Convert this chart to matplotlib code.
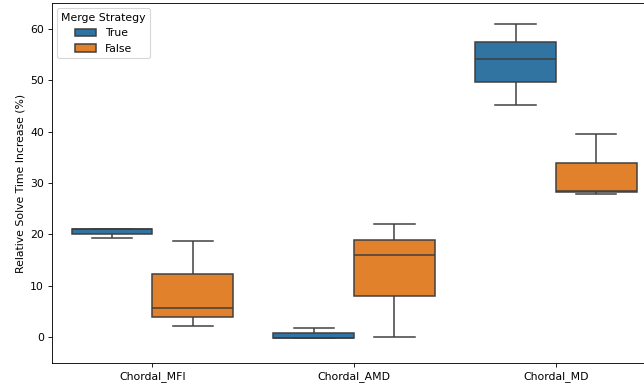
import matplotlib
matplotlib.use('Agg')
import matplotlib.pyplot as plt
import pandas as pd
import seaborn as sns

# five-number summaries: min, q1, median, q3, max
methods = ['Chordal_MFI', 'Chordal_AMD', 'Chordal_MD']
merge = ['True', 'False']

mfi_true = [19.35, 20.07, 21.05, 21.1, 21.1]
mfi_false = [2.2, 3.96, 5.6, 12.2, 18.77]
amd_true = [-0.13, -0.13, -0.1, 0.78, 1.69]
amd_false = [0.0, 7.99, 16.03, 18.96, 21.95]
md_true = [45.26, 49.68, 54.1, 57.47, 60.9]
md_false = [27.8, 28.25, 28.5, 33.96, 39.55]

groups = {
    ('Chordal_MFI', 'True'): mfi_true,
    ('Chordal_MFI', 'False'): mfi_false,
    ('Chordal_AMD', 'True'): amd_true,
    ('Chordal_AMD', 'False'): amd_false,
    ('Chordal_MD', 'True'): md_true,
    ('Chordal_MD', 'False'): md_false,
}

rows = []
for (m, s), vals in groups.items():
    for v in vals:
        rows.append({'Method': m, 'Merge Strategy': s, 'Increase': v})
df = pd.DataFrame(rows)

# the reference looks like a larger figure scaled down, so use a low dpi
DPI = 78
fig = plt.figure(figsize=(644 / DPI, 385 / DPI), dpi=DPI)
ax = fig.add_axes([0.080, 0.0571, 0.9398, 0.935])

sns.boxplot(data=df, x='Method', y='Increase', hue='Merge Strategy',
            order=methods, hue_order=merge, linewidth=1.4, ax=ax)

ax.set_xlim(-0.5, 2.5)
ax.set_ylim(-5.07, 65.07)
ax.set_xlabel('')
ax.set_ylabel('Relative Solve Time Increase (%)')
ax.legend(title='Merge Strategy', loc='upper left')

fig.savefig('out.png', dpi=DPI)
